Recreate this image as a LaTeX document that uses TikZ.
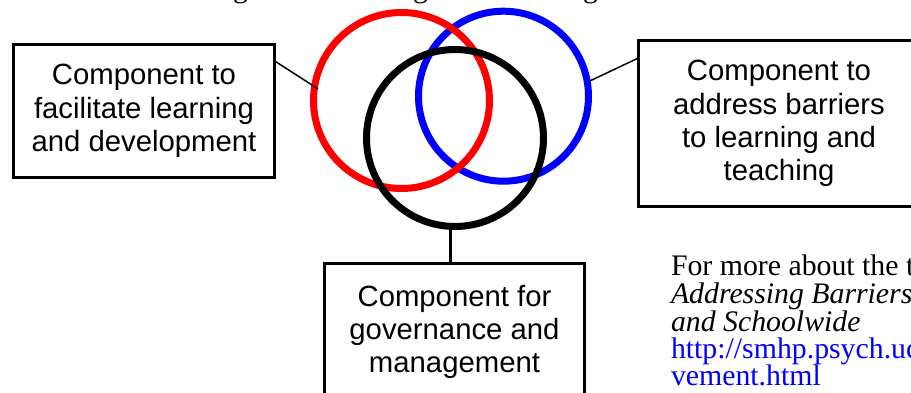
\documentclass[tikz,border=0pt]{standalone}
\usepackage{fontspec}
\setmainfont{Liberation Serif}
\newfontfamily\arialf{Liberation Sans}
\usetikzlibrary{calc}
\begin{document}
\begin{tikzpicture}[x=1pt,y=-1pt,
  boxstyle/.style={draw=black,line width=3pt,rectangle,inner sep=0pt,outer sep=0pt,
    align=center,font=\arialf\fontsize{29.3}{33.2}\selectfont},
  ring/.style={circle,inner sep=0pt,outer sep=0pt,line width=7pt},
  thinline/.style={line width=1.5pt},
  note/.style={anchor=base west,inner sep=0pt,outer sep=0pt,font=\fontsize{29.8}{27.5}\selectfont}]
\useasboundingbox (0,0) rectangle (911,393);
\fill[white] (0,0) rectangle (911,393);
\clip (0,0) rectangle (911,393);
% fragments of a cut-off text line at the top
\node[note] (g1) at (233,-2) {g};
\node[note] (g2) at (413,-2) {g};
\node[note] (g3) at (583,-2) {g};
% rings
\node[ring,draw=blue,minimum size=170pt] (blue) at (503.5,96.2) {};
\node[ring,draw=red,minimum size=176pt] (red) at (401.5,100.5) {};
\node[ring,draw=black,minimum size=177pt] (blk) at (455,138) {};
% boxes
\node[boxstyle,minimum width=261pt,minimum height=133pt] (lbox) at (144,111) {Component to\\facilitate learning\\and development};
\node[boxstyle,minimum width=281pt,minimum height=166pt] (rbox) at (779,123.5) {Component to\\address barriers\\to learning and\\teaching};
\node[boxstyle,minimum width=260pt,minimum height=137pt] (bbox) at (454.5,332) {Component for\\governance and\\management};
% connectors
\draw[thinline] (lbox.21.3) -- ($(red.center)!0.96!(red.172.8)$);
\draw[thinline] (rbox.155) -- ($(blue.center)!1.03!(blue.10.6)$);
\draw[line width=3pt] (blk.-93.9) -- (blk.-93.9 |- bbox.north);
% note text
\node[note] (n1) at (671,275) {For more about the t};
\node[note] (n2) at (671,303) {\itshape Addressing Barriers};
\node[note] (n3) at (671,331) {\itshape and Schoolwide};
\node[note,text=blue] (n4) at (671,358) {http://smhp.psych.uc};
\node[note,text=blue] (n5) at (671,385) {vement.html};
\end{tikzpicture}
\end{document}
